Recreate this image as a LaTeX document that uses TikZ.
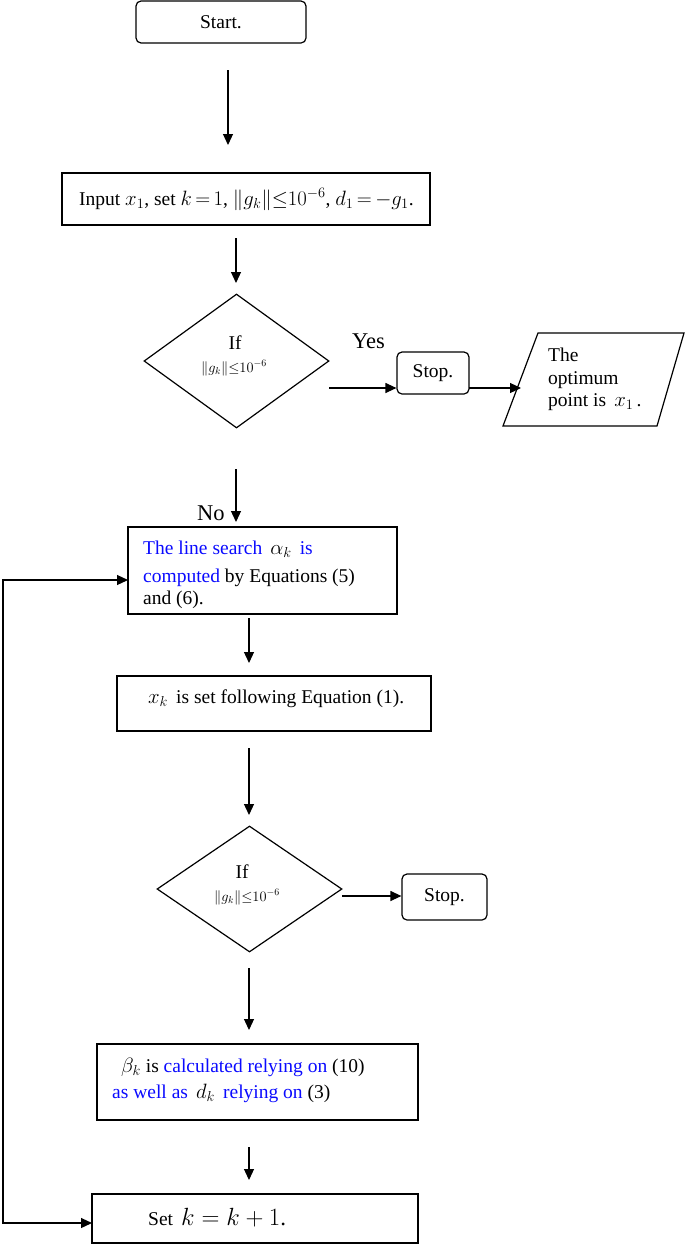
\documentclass[tikz,border=0pt]{standalone}
\usepackage{fontspec}
\setmainfont{Liberation Serif}
\usetikzlibrary{arrows.meta,shapes.geometric}
\definecolor{tblue}{RGB}{10,10,255}
\newcommand\fs{\fontsize{19.5}{23}\selectfont}
\newcommand\fsm{\fontsize{14}{16}\selectfont}
\newcommand\fsl{\fontsize{22.5}{26}\selectfont}
\newcommand\bl[1]{\textcolor{tblue}{#1}}
\begin{document}
\begin{tikzpicture}[x=1pt,y=-1pt,
  box/.style={draw, line width=1.2pt, inner sep=0pt},
  rbox/.style={box, rounded corners=5pt, font=\fs},
  dia/.style={draw, diamond, line width=1.2pt, inner sep=0pt},
  txt/.style={inner sep=0pt, anchor=base west, font=\fs},
  ctxt/.style={inner sep=0pt, anchor=center},
  arr/.style={line width=1.2pt, -{Triangle[length=11pt,width=10pt]}},
  arrb/.style={line width=1.2pt, {Triangle[length=11pt,width=10pt]}-{Triangle[length=11pt,width=10pt]}}]
\useasboundingbox (0,0) rectangle (685,1248);
% Start
\node[rbox, minimum width=170pt, minimum height=42pt] (start) at (221,22) {Start.};
\coordinate (a1s) at (228,70); \coordinate (a1e) at (228,145);
\draw[arr] (a1s) -- (a1e);
% Input
\node[box, minimum width=368pt, minimum height=52pt] (inp) at (246,199) {};
\node[txt] (inptxt) at (79,205) {\thickmuskip=3mu\medmuskip=2mu Input $x_1$, set $k=1$, $\|g_k\|{\le}10^{-6}$, $d_1=-g_1$.};
\coordinate (a2s) at (236,238); \coordinate (a2e) at (236,283);
\draw[arr] (a2s) -- (a2e);
% Diamond 1
\node[dia, minimum width=185pt, minimum height=134pt] (d1) at (236.5,361) {};
\node[ctxt, font=\fs] (d1if) at (235,343) {If};
\node[ctxt, font=\fsm] (d1f) at (234,368) {$\|g_k\|{\le}10^{-6}$};
\node[txt, font=\fsl] (yes) at (352,348) {Yes};
\coordinate (a3s) at (329,388);
\node[rbox, minimum width=72pt, minimum height=42pt] (stop1) at (433,373) {Stop.};
\draw[arr] (a3s) -- (a3s -| stop1.west);
\coordinate (a4s) at (469,388); \coordinate (a4e) at (521,388);
\draw[arr] (a4s) -- (a4e);
% Output parallelogram
\coordinate (p1) at (503,426); \coordinate (p2) at (538,333);
\coordinate (p3) at (684,333); \coordinate (p4) at (657,426);
\draw[line width=1.2pt] (p1) -- (p2) -- (p3) -- (p4) -- cycle;
\node[txt] (o1) at (548,361) {The};
\node[txt] (o2) at (548,384) {optimum};
\node[txt] (o3) at (548,406) {point is\, $x_1$\,.};
% No
\coordinate (a5s) at (236,469); \coordinate (a5e) at (236,522);
\draw[arr] (a5s) -- (a5e);
\node[txt, font=\fsl] (no) at (197,520) {No};
% Box 3
\node[box, minimum width=269pt, minimum height=87pt] (b3) at (262.5,570.5) {};
\node[txt] (b3l1) at (143,554) {\bl{The line search}\, $\alpha_k$\, \bl{is}};
\node[txt] (b3l2) at (143,582) {\bl{computed} by Equations (5)};
\node[txt] (b3l3) at (143,604) {and (6).};
\coordinate (a6s) at (249,618); \coordinate (a6e) at (249,663);
\draw[arr] (a6s) -- (a6e);
% Box 4
\node[box, minimum width=314pt, minimum height=55pt] (b4) at (274,703.5) {};
\node[txt] (b4t) at (148,703) {$x_k$\, is set following Equation (1).};
\coordinate (a7s) at (249,748); \coordinate (a7e) at (249,815);
\draw[arr] (a7s) -- (a7e);
% Diamond 2
\node[dia, minimum width=185pt, minimum height=126pt] (d2) at (249.5,889) {};
\node[ctxt, font=\fs] (d2if) at (242,872) {If};
\node[ctxt, font=\fsm] (d2f) at (247,897) {$\|g_k\|{\le}10^{-6}$};
\coordinate (a8s) at (342,896);
\node[rbox, minimum width=85pt, minimum height=46pt] (stop2) at (444.5,897) {Stop.};
\draw[arr] (a8s) -- (a8s -| stop2.west);
\coordinate (a9s) at (249,968); \coordinate (a9e) at (249,1030);
\draw[arr] (a9s) -- (a9e);
% Box 5
\node[box, minimum width=321pt, minimum height=76pt] (b5) at (257.5,1082) {};
\node[txt] (b5l1) at (121,1072) {$\beta_k$ is \bl{calculated relying on} (10)};
\node[txt] (b5l2) at (112,1098) {\bl{as well as}\, $d_k$\, \bl{relying on} (3)};
\coordinate (a10s) at (249,1147); \coordinate (a10e) at (249,1180);
\draw[arr] (a10s) -- (a10e);
% Box 6
\node[box, minimum width=326pt, minimum height=49pt] (b6) at (255,1218.5) {};
\node[txt] (b6t) at (148,1225) {Set\, {\fontsize{23}{26}\selectfont$k=k+1$.}};
% feedback
\coordinate (fb1) at (92,1223); \coordinate (fb2) at (3,1223); \coordinate (fb3) at (128,580);
\draw[arrb] (fb1) -- (fb2) |- (fb3);
\end{tikzpicture}
\end{document}
